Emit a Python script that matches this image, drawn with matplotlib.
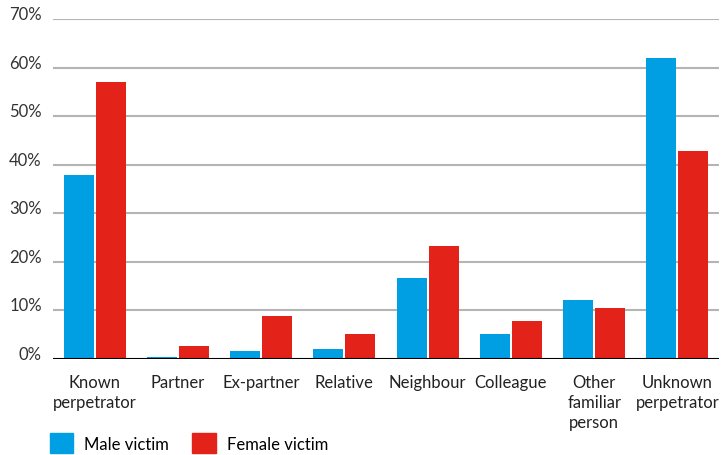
import numpy as np
import matplotlib.pyplot as plt
from matplotlib.patches import Patch

# Relation between victim and perpetrator, share of victims (%)
categories = ["Known\nperpetrator", "Partner", "Ex-partner", "Relative", "Neighbour",
              "Colleague", "Other\nfamiliar\nperson", "Unknown\nperpetrator"]
male = [37.9, 0.5, 1.6, 2.1, 16.7, 5.1, 12.1, 62.0]
female = [57.0, 2.7, 8.9, 5.1, 23.3, 7.8, 10.5, 42.8]
yticks = [0, 10, 20, 30, 40, 50, 60, 70]

blue = "#009FE3"
red = "#E3221A"

plt.rcParams['font.family'] = ['Lato', 'DejaVu Sans']

fig = plt.figure(figsize=(7.22, 4.56), dpi=100)
ax = fig.add_axes([53 / 722, 1 - 360 / 456, 666 / 722, 340 / 456])

x = np.arange(len(categories))
w = 0.36
gap = 0.024
ax.bar(x - (w + gap) / 2, male, width=w, color=blue, zorder=3)
ax.bar(x + (w + gap) / 2, female, width=w, color=red, zorder=3)

ax.set_xlim(-0.5, len(categories) - 0.5)
ax.set_ylim(0, 70)
ax.set_yticks(yticks)
ax.set_yticklabels([f"{t}%" for t in yticks], fontsize=12, color="#333333")
for lbl in ax.get_yticklabels():
    lbl.set_verticalalignment('baseline')
ax.set_xticks(x)
ax.set_xticklabels(categories, fontsize=12, color="#222222", linespacing=1.3)
ax.tick_params(axis='both', length=0)
ax.tick_params(axis='y', pad=8)
ax.tick_params(axis='x', pad=11)

for t in yticks[1:]:
    ax.axhline(t, color="#b4b4b4", linewidth=1.5, zorder=1)
ax.axhline(0, color="black", linewidth=1.5, zorder=4)
for s in ax.spines.values():
    s.set_visible(False)

handles = [Patch(color=blue, label="Male victim"), Patch(color=red, label="Female victim")]
fig.legend(handles=handles, loc='center left', bbox_to_anchor=(50 / 722, 12 / 456), ncol=2,
           frameon=False, fontsize=12, handlelength=1.4, handleheight=1.4,
           handletextpad=0.65, columnspacing=1.4, borderpad=0, borderaxespad=0)

fig.savefig("out.png", dpi=100)
